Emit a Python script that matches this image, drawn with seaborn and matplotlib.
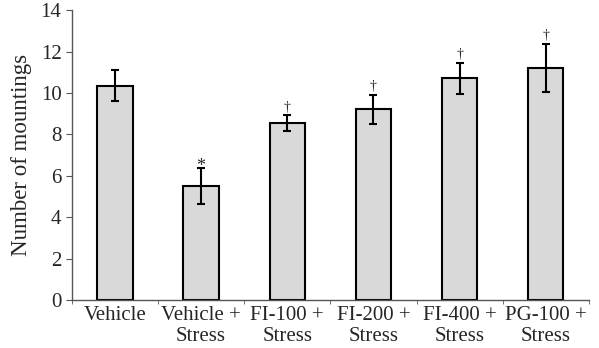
import matplotlib.pyplot as plt
import seaborn as sns
import numpy as np
import pandas as pd

groups = ['Vehicle', 'Vehicle +\nStress', 'FI-100 +\nStress', 'FI-200 +\nStress',
          'FI-400 +\nStress', 'PG-100 +\nStress']
means = [10.35, 5.5, 8.55, 9.2, 10.7, 11.2]
errs = [0.75, 0.87, 0.37, 0.72, 0.74, 1.16]
marks = ['', '*', '\u2020', '\u2020', '\u2020', '\u2020']

df = pd.DataFrame({'group': groups, 'mean': means})

sns.set_style('ticks')
plt.rcParams['font.family'] = ['Liberation Serif', 'DejaVu Serif']

fig = plt.figure(figsize=(5.99, 3.48), dpi=100)
ax = fig.add_axes([0.120, 0.138, 0.863, 0.833])
sns.barplot(data=df, x='group', y='mean', color='#d9d9d9', edgecolor='black',
            linewidth=1.5, width=0.41, saturation=1, errorbar=None, ax=ax)
xs = np.arange(len(groups))
ax.errorbar(xs, means, yerr=errs, fmt='none', ecolor='black', elinewidth=1.5,
            capsize=3, capthick=1.5)
for x, m, e, s in zip(xs, means, errs, marks):
    if s == '*':
        ax.text(x, m + e - 0.35, s, ha='center', va='bottom', fontsize=13)
    elif s:
        ax.text(x, m + e + 0.08, s, ha='center', va='bottom', fontsize=10)

ax.set_ylim(0, 14)
ax.set_xlim(-0.5, len(groups) - 0.5)
ax.set_yticks(range(0, 15, 2))
ax.set_xticks(np.arange(-0.5, len(groups), 1), minor=True)
ax.tick_params(axis='x', which='major', length=0, labelsize=15, pad=4)
ax.tick_params(axis='x', which='minor', length=3, color='#555555')
ax.tick_params(axis='y', labelsize=15, length=4, color='#555555')
ax.set_xlabel('')
ax.set_ylabel('Number of mountings', fontsize=16.5, labelpad=6)
for sp in ['top', 'right']:
    ax.spines[sp].set_visible(False)
for sp in ['left', 'bottom']:
    ax.spines[sp].set_color('#555555')
    ax.spines[sp].set_linewidth(1)

fig.savefig('out.png', dpi=100)
